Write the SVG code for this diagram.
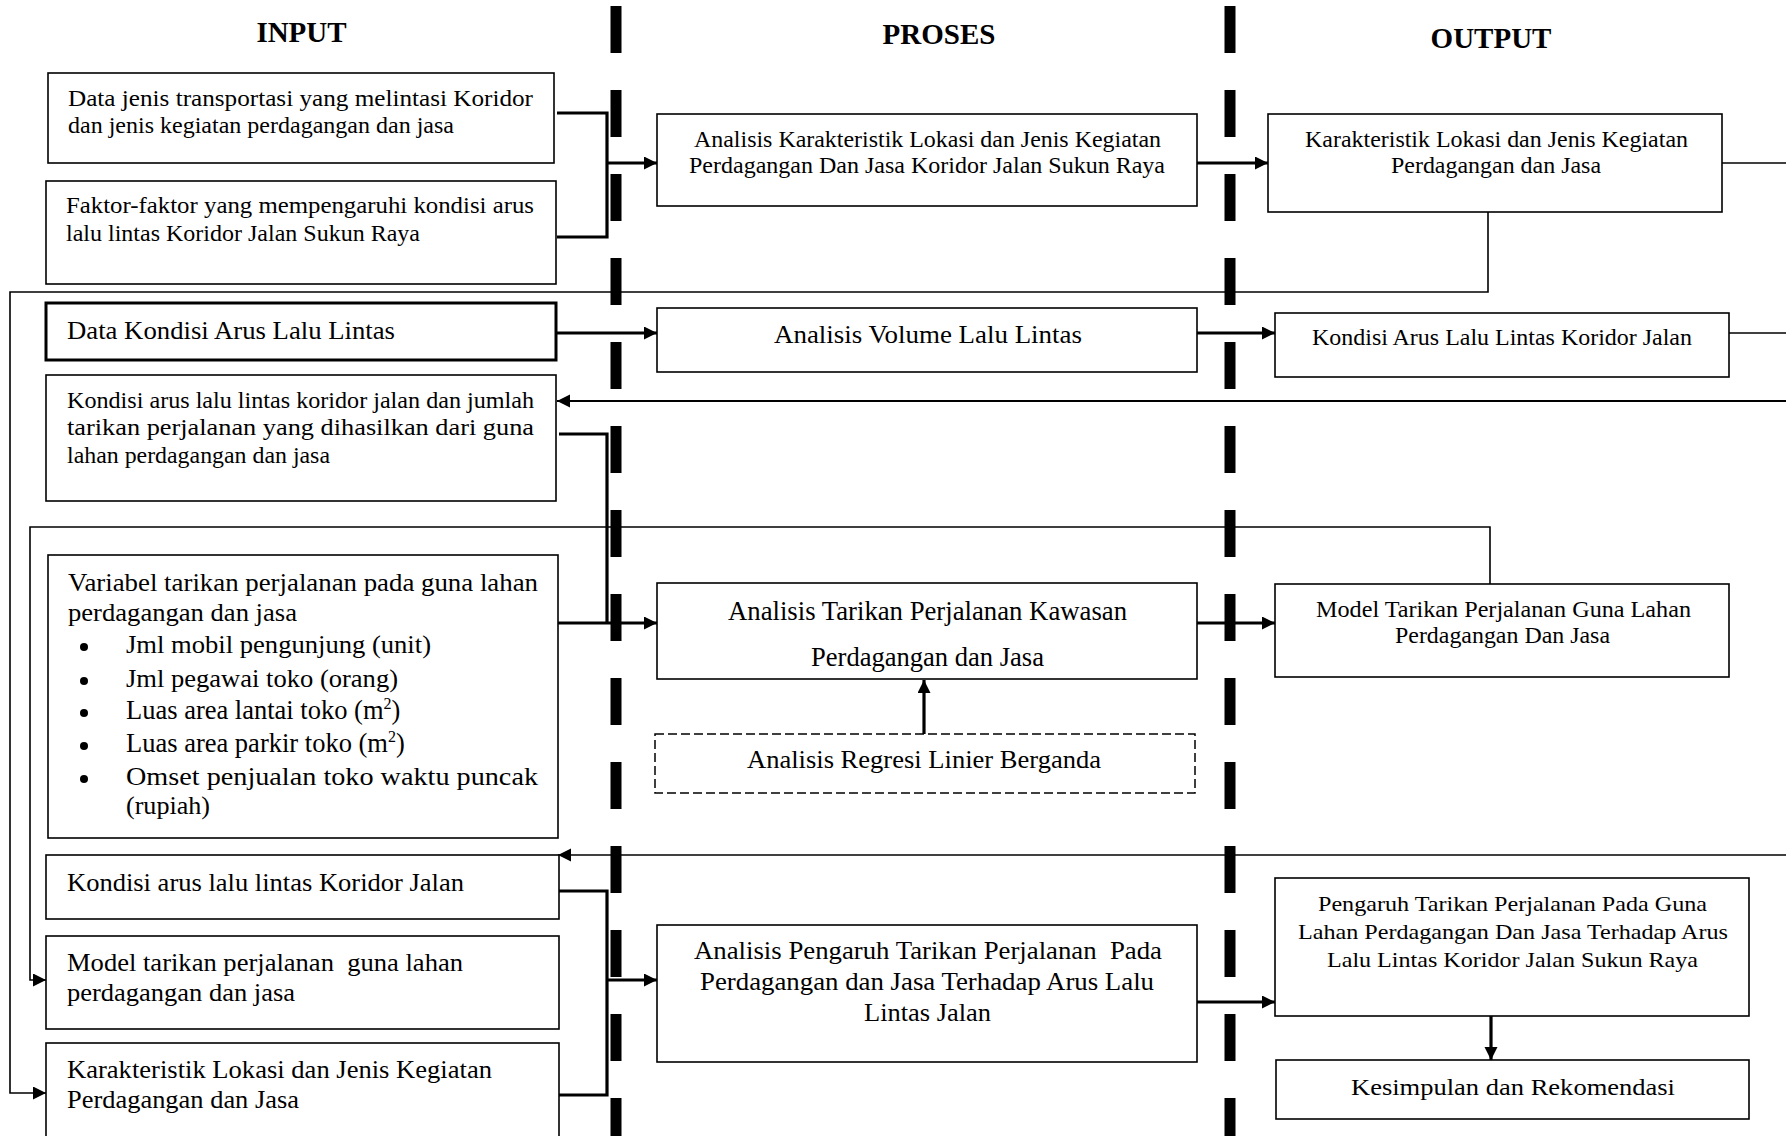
<svg xmlns="http://www.w3.org/2000/svg" width="1786" height="1136" viewBox="0 0 1786 1136">
<style>
.bx{fill:#fff;stroke:#000;stroke-width:1.6}
.bxt{fill:#fff;stroke:#000;stroke-width:3}
.bxd{fill:#fff;stroke:#000;stroke-width:1.5;stroke-dasharray:9 4}
.t{font-family:"Liberation Serif","Times New Roman",serif;fill:#000}
.h{font-family:"Liberation Serif","Times New Roman",serif;font-weight:bold;font-size:29px;fill:#000;text-anchor:middle}
.thick{fill:none;stroke:#000;stroke-width:3.2}
.thin{fill:none;stroke:#000;stroke-width:1.6}
.mid{fill:none;stroke:#000;stroke-width:2.2}
.sep{stroke:#000;stroke-width:11;stroke-dasharray:47 37}
</style>
<defs>
<marker id="ah" markerUnits="userSpaceOnUse" markerWidth="14" markerHeight="14" refX="13" refY="6.5" orient="auto">
<path d="M0,0 L13,6.5 L0,13 z" fill="#000"/>
</marker>
</defs>
<rect width="1786" height="1136" fill="#fff"/>

<g id="headers">
<text class="h" x="301.5" y="42">INPUT</text>
<text class="h" x="939" y="44">PROSES</text>
<text class="h" x="1491" y="48">OUTPUT</text>
</g>

<g id="separators">
<line class="sep" x1="616" y1="6" x2="616" y2="1136"/>
<line class="sep" x1="1230" y1="6" x2="1230" y2="1136"/>
</g>

<g id="connectors">
<path class="thick" d="M557,113 H607 V237 H557"/>
<path class="thick" d="M607,163 H657" marker-end="url(#ah)"/>
<path class="thick" d="M1197,163 H1268" marker-end="url(#ah)"/>
<path class="thick" d="M557,333 H657" marker-end="url(#ah)"/>
<path class="thick" d="M1197,333 H1275" marker-end="url(#ah)"/>
<path class="thick" d="M559,434 H607 V623"/>
<path class="thick" d="M558,623 H657" marker-end="url(#ah)"/>
<path class="thick" d="M1197,623 H1275" marker-end="url(#ah)"/>
<path class="thick" d="M924,734 V680" marker-end="url(#ah)"/>
<path class="thick" d="M559,891 H607 V1095 H559"/>
<path class="thick" d="M607,980 H657" marker-end="url(#ah)"/>
<path class="thick" d="M1187,1002 H1275" marker-end="url(#ah)"/>
<path class="thick" d="M1491,1016 V1060" marker-end="url(#ah)"/>
<path class="thin" d="M1488,212 V292 H10 V1093 H46" marker-end="url(#ah)"/>
<path class="thin" d="M1490,584 V527 H30 V980 H46" marker-end="url(#ah)"/>
<path class="mid" d="M1786,401 H557" marker-end="url(#ah)"/>
<path class="thin" d="M1786,855 H558" marker-end="url(#ah)"/>
<path class="thin" d="M1722,163 H1786"/>
<path class="thin" d="M1729,333 H1786"/>
</g>

<g id="in1">
<rect class="bx" x="48" y="73" width="506" height="90"/>
<text class="t" font-size="22.5" x="68" y="106" textLength="465" lengthAdjust="spacingAndGlyphs">Data jenis transportasi yang melintasi Koridor</text>
<text class="t" font-size="22.5" x="68" y="133" textLength="386" lengthAdjust="spacingAndGlyphs">dan jenis kegiatan perdagangan dan jasa</text>
</g>
<g id="in2">
<rect class="bx" x="46" y="181" width="510" height="103"/>
<text class="t" font-size="22.5" x="66" y="213" textLength="468" lengthAdjust="spacingAndGlyphs">Faktor-faktor yang mempengaruhi kondisi arus</text>
<text class="t" font-size="22.5" x="66" y="241" textLength="354" lengthAdjust="spacingAndGlyphs">lalu lintas Koridor Jalan Sukun Raya</text>
</g>
<g id="in3">
<rect class="bxt" x="46" y="303" width="510" height="57"/>
<text class="t" font-size="26" x="67" y="339" textLength="328" lengthAdjust="spacingAndGlyphs">Data Kondisi Arus Lalu Lintas</text>
</g>
<g id="in4">
<rect class="bx" x="46" y="375" width="510" height="126"/>
<text class="t" font-size="22.5" x="67" y="408" textLength="467" lengthAdjust="spacingAndGlyphs">Kondisi arus lalu lintas koridor jalan dan jumlah</text>
<text class="t" font-size="22.5" x="67" y="435" textLength="467" lengthAdjust="spacingAndGlyphs">tarikan perjalanan yang dihasilkan dari guna</text>
<text class="t" font-size="22.5" x="67" y="463" textLength="263" lengthAdjust="spacingAndGlyphs">lahan perdagangan dan jasa</text>
</g>
<g id="in5">
<rect class="bx" x="48" y="555" width="510" height="283"/>
<text class="t" font-size="25" x="68" y="591" textLength="470" lengthAdjust="spacingAndGlyphs">Variabel tarikan perjalanan pada guna lahan</text>
<text class="t" font-size="25" x="68" y="621" textLength="229" lengthAdjust="spacingAndGlyphs">perdagangan dan jasa</text>
<circle cx="84" cy="647" r="4"/>
<text class="t" font-size="25" x="126" y="653" textLength="305" lengthAdjust="spacingAndGlyphs">Jml mobil pengunjung (unit)</text>
<circle cx="84" cy="681" r="4"/>
<text class="t" font-size="25" x="126" y="687" textLength="272" lengthAdjust="spacingAndGlyphs">Jml pegawai toko (orang)</text>
<circle cx="84" cy="713" r="4"/>
<text class="t" font-size="26.5" x="126" y="719">Luas area lantai toko (m<tspan font-size="16" dy="-10">2</tspan><tspan dy="10">)</tspan></text>
<circle cx="84" cy="746" r="4"/>
<text class="t" font-size="26.5" x="126" y="752">Luas area parkir toko (m<tspan font-size="16" dy="-10">2</tspan><tspan dy="10">)</tspan></text>
<circle cx="84" cy="779" r="4"/>
<text class="t" font-size="25" x="126" y="785" textLength="412" lengthAdjust="spacingAndGlyphs">Omset penjualan toko waktu puncak</text>
<text class="t" font-size="25" x="126" y="814" textLength="84" lengthAdjust="spacingAndGlyphs">(rupiah)</text>
</g>
<g id="in6">
<rect class="bx" x="46" y="855" width="513" height="64"/>
<text class="t" font-size="26" x="67" y="891" textLength="397" lengthAdjust="spacingAndGlyphs">Kondisi arus lalu lintas Koridor Jalan</text>
</g>
<g id="in7">
<rect class="bx" x="46" y="936" width="513" height="93"/>
<text class="t" font-size="26" x="67" y="971" textLength="396" lengthAdjust="spacingAndGlyphs" xml:space="preserve">Model tarikan perjalanan  guna lahan</text>
<text class="t" font-size="26" x="67" y="1001" textLength="228" lengthAdjust="spacingAndGlyphs">perdagangan dan jasa</text>
</g>
<g id="in8">
<rect class="bx" x="46" y="1043" width="513" height="100"/>
<text class="t" font-size="26" x="67" y="1078" textLength="425" lengthAdjust="spacingAndGlyphs">Karakteristik Lokasi dan Jenis Kegiatan</text>
<text class="t" font-size="26" x="67" y="1108" textLength="232" lengthAdjust="spacingAndGlyphs">Perdagangan dan Jasa</text>
</g>

<g id="p1">
<rect class="bx" x="657" y="114" width="540" height="92"/>
<text class="t" font-size="23" x="694" y="147" textLength="467" lengthAdjust="spacingAndGlyphs">Analisis Karakteristik Lokasi dan Jenis Kegiatan</text>
<text class="t" font-size="23" x="689" y="173" textLength="476" lengthAdjust="spacingAndGlyphs">Perdagangan Dan Jasa Koridor Jalan Sukun Raya</text>
</g>
<g id="p2">
<rect class="bx" x="657" y="308" width="540" height="64"/>
<text class="t" font-size="25" x="774" y="343" textLength="308" lengthAdjust="spacingAndGlyphs">Analisis Volume Lalu Lintas</text>
</g>
<g id="p3">
<rect class="bx" x="657" y="583" width="540" height="96"/>
<text class="t" font-size="27" x="728" y="620" textLength="399" lengthAdjust="spacingAndGlyphs">Analisis Tarikan Perjalanan Kawasan</text>
<text class="t" font-size="27" x="811" y="666" textLength="233" lengthAdjust="spacingAndGlyphs">Perdagangan dan Jasa</text>
</g>
<g id="reg">
<rect class="bxd" x="655" y="734" width="540" height="59"/>
<text class="t" font-size="26" x="747" y="768" textLength="354" lengthAdjust="spacingAndGlyphs">Analisis Regresi Linier Berganda</text>
</g>
<g id="p4">
<rect class="bx" x="657" y="925" width="540" height="137"/>
<text class="t" font-size="25" x="694" y="959" textLength="468" lengthAdjust="spacingAndGlyphs" xml:space="preserve">Analisis Pengaruh Tarikan Perjalanan  Pada</text>
<text class="t" font-size="25" x="700" y="990" textLength="454" lengthAdjust="spacingAndGlyphs">Perdagangan dan Jasa Terhadap Arus Lalu</text>
<text class="t" font-size="25" x="864" y="1021" textLength="127" lengthAdjust="spacingAndGlyphs">Lintas Jalan</text>
</g>

<g id="o1">
<rect class="bx" x="1268" y="114" width="454" height="98"/>
<text class="t" font-size="23" x="1305" y="147" textLength="383" lengthAdjust="spacingAndGlyphs">Karakteristik Lokasi dan Jenis Kegiatan</text>
<text class="t" font-size="23" x="1391" y="173" textLength="210" lengthAdjust="spacingAndGlyphs">Perdagangan dan Jasa</text>
</g>
<g id="o2">
<rect class="bx" x="1275" y="313" width="454" height="64"/>
<text class="t" font-size="23" x="1312" y="345" textLength="380" lengthAdjust="spacingAndGlyphs">Kondisi Arus Lalu Lintas Koridor Jalan</text>
</g>
<g id="o3">
<rect class="bx" x="1275" y="584" width="454" height="93"/>
<text class="t" font-size="23" x="1316" y="617" textLength="375" lengthAdjust="spacingAndGlyphs">Model Tarikan Perjalanan Guna Lahan</text>
<text class="t" font-size="23" x="1395" y="643" textLength="215" lengthAdjust="spacingAndGlyphs">Perdagangan Dan Jasa</text>
</g>
<g id="o4">
<rect class="bx" x="1275" y="878" width="474" height="138"/>
<text class="t" font-size="22" x="1318" y="911" textLength="389" lengthAdjust="spacingAndGlyphs">Pengaruh Tarikan Perjalanan Pada Guna</text>
<text class="t" font-size="22" x="1298" y="939" textLength="430" lengthAdjust="spacingAndGlyphs">Lahan Perdagangan Dan Jasa Terhadap Arus</text>
<text class="t" font-size="22" x="1327" y="967" textLength="371" lengthAdjust="spacingAndGlyphs">Lalu Lintas Koridor Jalan Sukun Raya</text>
</g>
<g id="o5">
<rect class="bx" x="1276" y="1060" width="473" height="59"/>
<text class="t" font-size="24" x="1351" y="1095" textLength="324" lengthAdjust="spacingAndGlyphs">Kesimpulan dan Rekomendasi</text>
</g>
</svg>
